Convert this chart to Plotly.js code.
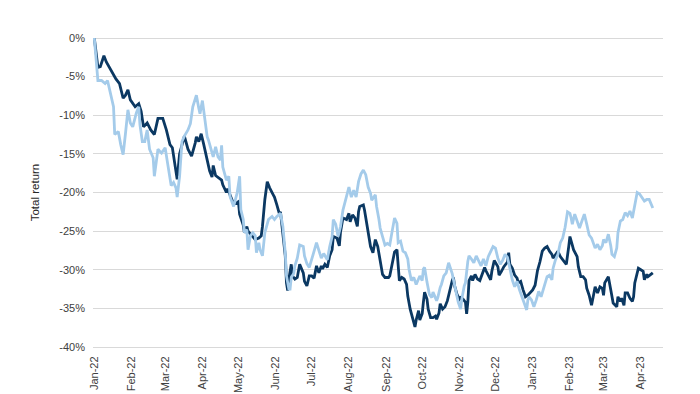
<!DOCTYPE html>
<html>
<head>
<meta charset="utf-8">
<script src="https://cdn.plot.ly/plotly-3.0.1.min.js"></script>
<style>html,body{margin:0;padding:0;background:#fff}#chart{width:700px;height:394px}</style>
</head>
<body>
<div id="chart"></div>
<script>
// Day offsets from 2022-01-01 and total returns (%)
const startDate = '2022-01-01';
const darkDays = [0,3,5,8,10,13,16,18,21,24,26,28,30,34,37,39,41,44,47,50,53,57,60,63,65,67,69,71,75,78,81,84,85,87,89,91,94,96,98,99,101,103,106,107,110,111,113,116,119,120,121,124,125,127,128,131,134,137,139,140,142,144,146,149,150,152,154,155,157,159,160,161,162,164,165,167,169,171,174,175,177,179,181,183,185,187,189,190,192,194,196,198,199,202,204,205,207,210,212,213,215,217,219,220,221,224,225,227,230,232,234,236,238,240,242,245,246,248,250,252,253,254,256,258,260,261,263,266,267,268,270,271,273,274,275,277,278,280,282,284,285,287,288,290,292,294,296,298,299,300,302,304,305,307,309,310,311,312,314,315,317,319,321,323,325,326,328,330,331,333,336,337,339,341,344,345,346,348,350,352,353,355,357,359,361,363,365,367,369,371,373,375,377,379,381,382,384,386,388,391,393,395,396,398,399,402,403,405,407,409,410,412,414,416,417,419,421,423,424,425,427,428,430,431,432,435,436,438,439,441,442,444,446,448,449,450,452,453,455,457,458,460,461,463,465];
const darkReturns = [0,-3.8,-3.7,-2.3,-3.1,-4.0,-4.8,-5.3,-5.9,-7.8,-7.4,-6.7,-8.0,-8.9,-8.5,-9.5,-11.5,-11.0,-11.9,-12.5,-10.4,-10.4,-11.9,-13.8,-14.2,-16.2,-18.3,-15.0,-12.7,-14.4,-15.3,-13.6,-12.8,-13.4,-12.4,-13.7,-16.0,-17.2,-18.0,-16.5,-17.8,-18.0,-18.4,-19.0,-20.0,-19.5,-20.3,-21.5,-21.3,-21.2,-22.8,-24.2,-25.2,-24.4,-25.0,-25.6,-26.1,-25.9,-25.6,-24.4,-20.9,-18.6,-19.4,-20.3,-20.6,-21.6,-22.7,-22.5,-25.0,-28.2,-31.7,-32.7,-31.2,-29.3,-30.8,-31.2,-31.0,-29.3,-30.4,-31.5,-32.1,-30.8,-30.8,-31.1,-29.5,-30.4,-29.5,-29.9,-29.3,-29.7,-28.2,-27.4,-25.7,-25.9,-26.9,-25.1,-23.3,-23.5,-22.7,-23.8,-22.9,-23.3,-24.4,-22.5,-21.8,-21.6,-22.3,-24.4,-27.0,-27.8,-26.1,-27.0,-28.7,-30.6,-31.0,-31.0,-30.8,-29.0,-27.7,-27.4,-29.5,-31.4,-31.0,-31.2,-31.9,-33.4,-35.1,-36.8,-37.4,-36.5,-35.3,-36.5,-35.7,-34.2,-32.9,-33.8,-35.1,-36.2,-36.2,-36.0,-36.4,-35.6,-34.4,-35.1,-34.8,-34.0,-32.5,-31.4,-31.0,-32.1,-33.2,-33.8,-33.6,-33.8,-34.2,-35.7,-34.2,-31.4,-30.8,-31.4,-30.6,-31.2,-31.4,-30.6,-29.7,-30.1,-30.8,-31.3,-30.2,-28.8,-29.6,-30.7,-30.2,-29.6,-29.0,-27.8,-29.3,-29.8,-30.7,-31.1,-31.7,-31.5,-32.6,-33.5,-33.3,-33.0,-32.6,-32.0,-30.1,-29.0,-27.6,-27.2,-27.0,-27.6,-28.0,-28.5,-28.1,-27.6,-28.3,-28.9,-29.3,-27.0,-25.7,-26.8,-27.4,-28.3,-29.6,-30.9,-30.9,-31.3,-32.4,-33.3,-34.6,-33.0,-32.2,-33.0,-32.2,-32.4,-33.3,-31.7,-31.1,-30.9,-32.6,-33.7,-34.3,-34.8,-33.5,-34.1,-33.7,-34.6,-33.0,-33.0,-33.7,-34.1,-33.5,-31.7,-30.2,-29.8,-30.0,-30.2,-31.3,-30.6,-30.9,-30.7,-30.4];
const lightDays = [0,2,3,6,9,11,13,16,17,20,22,24,26,28,30,32,35,37,38,40,42,44,46,49,50,53,56,59,61,64,66,68,69,71,73,75,78,80,82,85,87,88,90,92,94,95,97,99,101,103,105,106,107,110,112,113,116,119,121,122,124,125,127,128,130,132,134,135,137,138,140,142,145,148,150,152,155,157,159,160,162,163,164,166,167,169,171,174,175,177,179,181,183,185,187,189,191,194,196,198,199,201,203,205,207,209,211,212,214,216,218,220,222,224,226,228,230,231,234,235,237,238,240,242,244,246,248,250,252,253,255,257,259,261,262,264,266,268,271,273,274,275,277,279,281,282,285,286,288,289,291,293,295,297,298,300,302,303,305,306,308,309,311,312,314,316,318,320,322,324,326,328,330,332,334,336,338,340,342,344,346,348,350,352,354,356,357,360,361,362,364,366,368,370,372,374,375,377,379,381,382,384,386,388,390,392,394,396,397,398,400,402,404,406,408,410,412,414,415,417,419,421,423,424,426,428,430,431,433,435,436,438,440,442,444,446,448,449,450,452,454,456,458,460,462,465];
const lightReturns = [0,-4.2,-5.5,-5.5,-5.9,-5.5,-6.8,-8.9,-12.5,-12.1,-13.8,-15.1,-12.3,-9.3,-11.0,-11.5,-9.7,-8.9,-11.2,-13.4,-13.4,-11.9,-14.4,-15.5,-17.9,-14.4,-14.9,-14.2,-16.2,-19.1,-18.7,-19.4,-20.6,-17.9,-13.4,-12.7,-11.9,-11.1,-8.9,-7.4,-9.1,-9.8,-8.1,-10.6,-12.8,-13.2,-14.5,-15.4,-14.1,-15.4,-15.8,-13.9,-16.7,-18.4,-17.9,-20.5,-21.8,-20.0,-17.9,-22.2,-23.5,-25.2,-24.8,-27.4,-25.6,-25.2,-25.6,-27.8,-26.5,-27.4,-28.2,-25.2,-23.5,-23.1,-23.5,-23.1,-22.7,-24.4,-27.8,-30.8,-32.5,-32.5,-31.0,-30.5,-29.5,-28.5,-26.8,-27.0,-28.2,-29.2,-29.7,-28.5,-27.6,-26.5,-27.4,-28.5,-27.9,-28.7,-27.0,-25.7,-23.5,-24.1,-25.7,-24.4,-22.3,-21.2,-20.2,-19.3,-20.6,-19.7,-20.6,-18.6,-17.6,-17.1,-17.7,-19.3,-20.1,-21.0,-20.3,-21.8,-23.5,-24.6,-25.7,-26.8,-26.6,-26.8,-25.0,-23.3,-24.0,-26.5,-26.3,-27.6,-27.8,-28.6,-29.9,-31.4,-31.0,-31.9,-30.8,-31.4,-29.9,-29.7,-31.6,-33.2,-33.6,-32.9,-34.0,-33.6,-32.3,-31.9,-30.8,-30.4,-29.1,-29.9,-30.5,-32.0,-33.6,-34.2,-35.1,-33.8,-32.1,-31.7,-28.9,-28.2,-28.6,-29.1,-28.2,-28.8,-29.5,-28.6,-29.5,-28.3,-27.6,-27.0,-27.2,-28.5,-29.3,-28.8,-28.0,-28.4,-29.8,-31.3,-32.2,-31.5,-32.6,-33.5,-34.1,-35.2,-33.9,-33.5,-33.9,-34.8,-33.9,-32.8,-33.5,-32.4,-32.0,-30.9,-30.7,-31.3,-29.8,-28.7,-28.0,-26.5,-25.9,-24.5,-22.5,-22.7,-23.3,-24.1,-22.8,-23.8,-24.6,-23.7,-22.8,-24.1,-25.5,-25.9,-26.3,-27.2,-26.7,-27.4,-26.9,-26.1,-26.5,-25.4,-26.9,-28.0,-28.3,-27.2,-25.2,-23.7,-23.5,-22.6,-23.0,-22.4,-23.3,-22.4,-21.3,-20.0,-20.2,-20.7,-21.1,-20.9,-20.9,-22.0];
const yTickValues = [0,-5,-10,-15,-20,-25,-30,-35,-40];
const yTickLabels = ['0%','-5%','-10%','-15%','-20%','-25%','-30%','-35%','-40%'];

const base = Date.UTC(2022,0,1);
const toDate = d => new Date(base + d*86400000).toISOString().slice(0,10);

const traces = [
  {x: darkDays.map(toDate), y: darkReturns, type: 'scatter', mode: 'lines',
   line: {color: '#0b3862', width: 2.8}, hoverinfo: 'skip'},
  {x: lightDays.map(toDate), y: lightReturns, type: 'scatter', mode: 'lines',
   line: {color: '#a4cbea', width: 2.8}, hoverinfo: 'skip'}
];

const font = {family: '"Liberation Sans", Arial, sans-serif', size: 11, color: '#404040'};
const layout = {
  width: 700, height: 394,
  margin: {l: 93, r: 37, t: 38, b: 47, pad: 0},
  paper_bgcolor: '#fff', plot_bgcolor: '#fff',
  showlegend: false,
  font: font,
  xaxis: {
    type: 'date', range: ['2021-12-30 22:00', '2023-04-19 12:00'],
    tick0: startDate, dtick: 'M1', tickformat: '%b-%y', tickangle: -90,
    showgrid: false, zeroline: false, showline: true, linecolor: '#d9d9d9', linewidth: 1,
    ticks: '', ticklabelstandoff: 4, tickfont: font, fixedrange: true
  },
  yaxis: {
    range: [-40, 0], tickvals: yTickValues, ticktext: yTickLabels,
    showgrid: true, gridcolor: '#d9d9d9', gridwidth: 1,
    zeroline: true, zerolinecolor: '#d9d9d9', zerolinewidth: 1,
    showline: false, ticks: '', ticklabelstandoff: 7, tickfont: font,
    title: {text: 'Total return', font: {family: font.family, size: 11.5, color: '#262626'}, standoff: 17},
    fixedrange: true
  }
};
Plotly.newPlot('chart', traces, layout, {staticPlot: true, displayModeBar: false});
</script>
</body>
</html>
